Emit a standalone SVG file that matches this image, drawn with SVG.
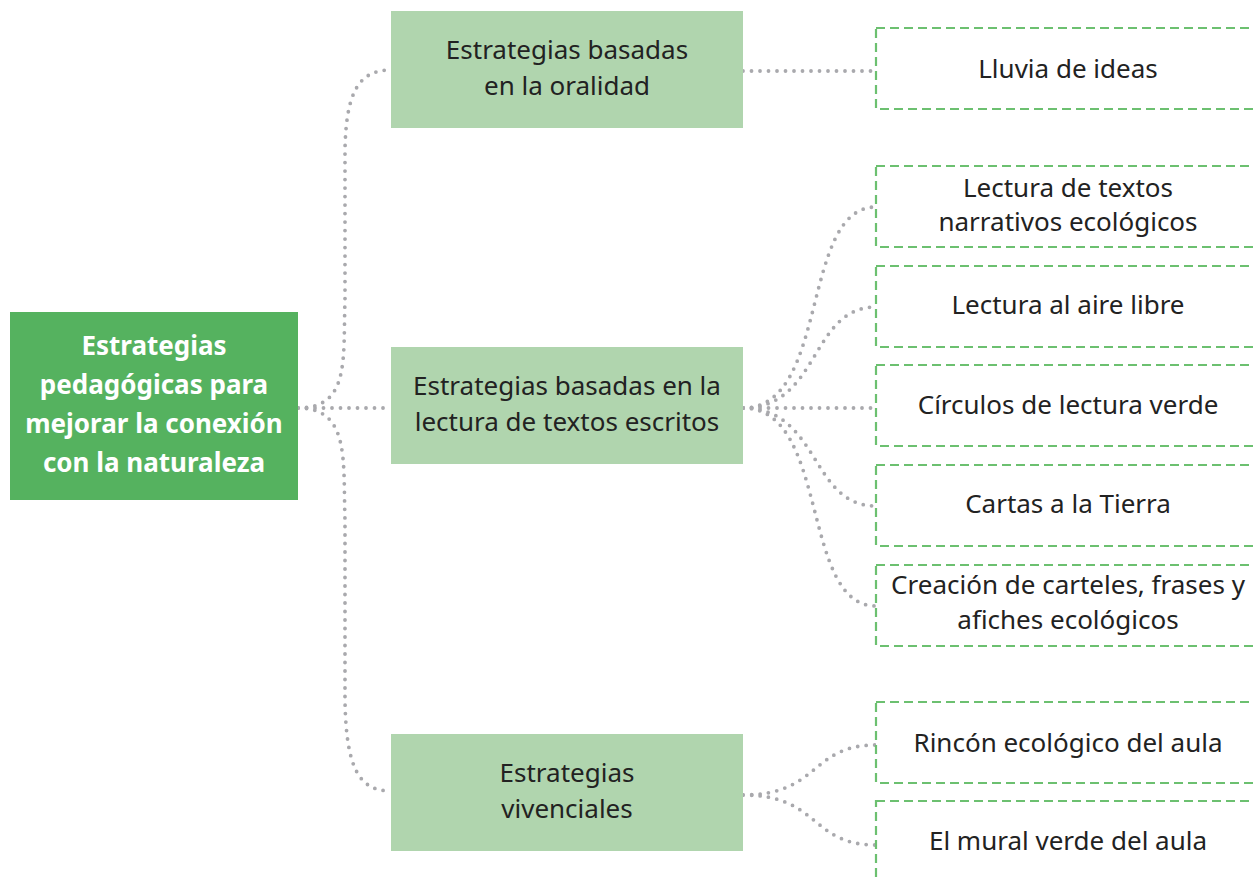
<svg xmlns="http://www.w3.org/2000/svg" width="1254" height="881" viewBox="0 0 1254 881">
<style>
.root{fill:#55b25f}
.mid{fill:#b0d5ae}
.leaf{fill:#fff;stroke:#6cc070;stroke-width:2.2;stroke-dasharray:9 5}
.t{font-family:"Noto Sans","Open Sans",sans-serif;font-size:26px;fill:#222;text-anchor:middle}
.rt{font-family:"Noto Sans","Open Sans",sans-serif;font-size:26px;font-weight:bold;fill:#fff;text-anchor:middle}
.c{fill:none;stroke:#a9a9ad;stroke-width:3.8;stroke-linecap:round;stroke-dasharray:0 8.5}
</style>
<rect width="1254" height="881" fill="#fff"/>
<g id="connectors">
<path class="c" d="M298,408 C350,408 343,360 345,300 L345,150 C346,90 360,70 391,70"/>
<path class="c" d="M298,408 L391,408"/>
<path class="c" d="M298,408 C350,408 343,460 345,520 L345,700 C346,770 360,791 391,791"/>
<path class="c" d="M743,71 L876,71"/>
<path class="c" d="M743,408 C830,408 800,207 876,207"/>
<path class="c" d="M743,408 C820,408 810,307 876,307"/>
<path class="c" d="M743,408 L876,408"/>
<path class="c" d="M743,408 C820,408 810,506 876,506"/>
<path class="c" d="M743,408 C830,408 800,606 876,606"/>
<path class="c" d="M743,795 C820,795 810,745 876,745"/>
<path class="c" d="M743,795 C820,795 810,845 876,845"/>
</g>
<g id="root">
<rect class="root" x="10" y="312" width="288" height="188"/>
<text class="rt" x="154" y="355">Estrategias</text>
<text class="rt" x="154" y="394">pedagógicas para</text>
<text class="rt" x="154" y="433">mejorar la conexión</text>
<text class="rt" x="154" y="472">con la naturaleza</text>
</g>
<g id="n-oralidad">
<rect class="mid" x="391" y="11" width="352" height="117"/>
<text class="t" x="567" y="59">Estrategias basadas</text>
<text class="t" x="567" y="95">en la oralidad</text>
</g>
<g id="n-lectura">
<rect class="mid" x="391" y="347" width="352" height="117"/>
<text class="t" x="567" y="395">Estrategias basadas en la</text>
<text class="t" x="567" y="431">lectura de textos escritos</text>
</g>
<g id="n-vivenciales">
<rect class="mid" x="391" y="734" width="352" height="117"/>
<text class="t" x="567" y="782">Estrategias</text>
<text class="t" x="567" y="818">vivenciales</text>
</g>
<g id="l-lluvia">
<rect class="leaf" x="876" y="28" width="400" height="81"/>
<text class="t" x="1068" y="78">Lluvia de ideas</text>
</g>
<g id="l-narrativos">
<rect class="leaf" x="876" y="166" width="400" height="81"/>
<text class="t" x="1068" y="197">Lectura de textos</text>
<text class="t" x="1068" y="231">narrativos ecológicos</text>
</g>
<g id="l-aire">
<rect class="leaf" x="876" y="266" width="400" height="81"/>
<text class="t" x="1068" y="314">Lectura al aire libre</text>
</g>
<g id="l-circulos">
<rect class="leaf" x="876" y="365" width="400" height="81"/>
<text class="t" x="1068" y="414">Círculos de lectura verde</text>
</g>
<g id="l-cartas">
<rect class="leaf" x="876" y="465" width="400" height="81"/>
<text class="t" x="1068" y="513">Cartas a la Tierra</text>
</g>
<g id="l-carteles">
<rect class="leaf" x="876" y="565" width="400" height="81"/>
<text class="t" x="1068" y="594">Creación de carteles, frases y</text>
<text class="t" x="1068" y="629">afiches ecológicos</text>
</g>
<g id="l-rincon">
<rect class="leaf" x="876" y="702" width="400" height="81"/>
<text class="t" x="1068" y="752">Rincón ecológico del aula</text>
</g>
<g id="l-mural">
<rect class="leaf" x="876" y="801" width="400" height="100"/>
<text class="t" x="1068" y="850">El mural verde del aula</text>
</g>
</svg>
